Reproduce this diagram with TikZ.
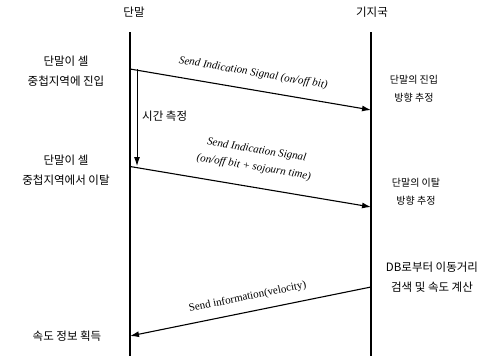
\documentclass[tikz,border=0pt]{standalone}
\usepackage{fontspec}
\setmainfont{Liberation Serif}
\newfontfamily\kr{Noto Sans CJK KR}
\usetikzlibrary{arrows.meta}
\begin{document}
\begin{tikzpicture}[x=1pt,y=-1pt,
  krtext/.style={font=\kr\fontsize{11.5}{19.5}\selectfont, align=center, inner sep=0pt},
  krsmall/.style={font=\kr\fontsize{10}{18}\selectfont, align=center, inner sep=0pt},
  life/.style={line width=1.2pt},
  msg/.style={line width=1.1pt, -{Latex[length=9pt,width=6pt]}},
  lbl/.style={font=\itshape\fontsize{11}{17.5}\selectfont, inner sep=0pt, align=center},
  lblup/.style={font=\fontsize{11}{15}\selectfont, inner sep=0pt, align=center}]
\useasboundingbox (0,0) rectangle (500,356);
% headers
\node[krtext] (hT) at (134,12) {단말};
\node[krtext] (hB) at (372,12) {기지국};
% lifelines
\coordinate (T0) at (130,32); \coordinate (T1) at (130,356);
\coordinate (B0) at (371,32); \coordinate (B1) at (371,356);
\draw[life] (T0) -- (T1);
\draw[life] (B0) -- (B1);
% message points
\coordinate (a1) at (130,69);   \coordinate (a2) at (371,110);
\coordinate (t1) at (137,69);   \coordinate (t2) at (137,166);
\coordinate (b1) at (130,166.5);\coordinate (b2) at (371,207);
\coordinate (c1) at (371,287);  \coordinate (c2) at (130,336);
% arrows
\draw[msg] (a1) -- node[lbl, sloped, above=11pt] (la) {Send Indication Signal (on/off bit)} (a2);
\draw[msg, line width=0.9pt] (t1) -- (t2);
\draw[msg] (b1) -- node[lbl, sloped, above=14pt] (lb) {Send Indication Signal\\(on/off bit + sojourn time)} (b2);
\draw[msg] (c1) -- node[lblup, sloped, above=9pt] (lc) {Send information(velocity)} (c2);
% side texts
\node[krtext] (s1) at (66,71) {단말이 셀\\중첩지역에 진입};
\node[krtext, anchor=west] (tm) at (142,116) {시간 측정};
\node[krtext] (s2) at (66,170) {단말이 셀\\중첩지역에서 이탈};
\node[krtext] (s3) at (67,336) {속도 정보 획득};
\node[krsmall] (r1) at (414,89) {단말의 진입\\방향 추정};
\node[krsmall] (r2) at (416,192) {단말의 이탈\\방향 추정};
\node[krtext] (r3) at (432,277) {DB로부터 이동거리\\검색 및 속도 계산};
\end{tikzpicture}
\end{document}
